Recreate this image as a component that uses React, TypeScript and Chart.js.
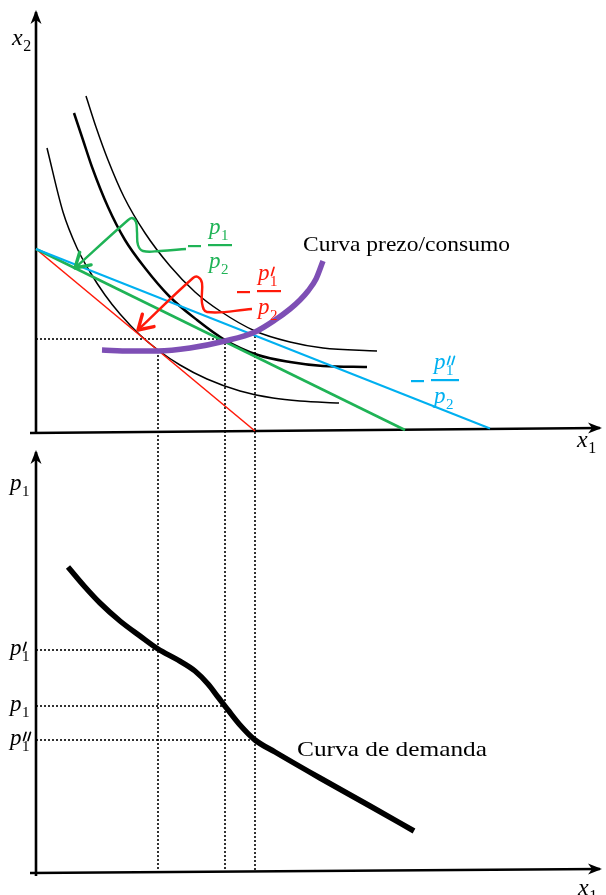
import React, { useEffect, useRef } from "react";
import { Chart, registerables } from "chart.js";

Chart.register(...registerables);

// ---------- Top panel: goods space (x1, x2) ----------
const ic1X = [1.1, 2.7, 4.1, 5.4, 6.9, 8.4, 10.4, 12.2, 14.4, 17.1, 20.4, 23.7, 26.4, 30.3];
const ic1Y = [28.4, 22.0, 18.4, 16.0, 13.7, 11.8, 9.7, 8.2, 6.7, 5.3, 4.1, 3.4, 3.1, 2.9];
const ic2X = [3.8, 4.7, 5.6, 7.2, 8.9, 10.9, 13.4, 16.1, 18.9, 22.2, 25.4, 28.7, 33.1];
const ic2Y = [31.9, 29.2, 26.5, 22.5, 19.2, 16.4, 13.5, 11.2, 9.2, 7.7, 7.0, 6.6, 6.5];
const ic3X = [5.0, 6.0, 7.2, 8.8, 10.9, 13.4, 15.9, 18.4, 21.9, 25.4, 28.7, 34.1];
const ic3Y = [33.6, 30.5, 27.2, 23.5, 19.9, 16.6, 14.0, 12.1, 10.1, 9.0, 8.4, 8.1];

const budgetRedX = [0, 21.9];
const budgetRedY = [18.3, 0.1];
const budgetGreenX = [0, 36.9];
const budgetGreenY = [18.3, 0.2];
const budgetCyanX = [0, 45.4];
const budgetCyanY = [18.3, 0.35];

const pccX = [6.6, 9.4, 12.2, 15.4, 18.9, 21.9, 23.9, 25.4, 26.4, 27.2, 28.0, 28.7];
const pccY = [8.2, 8.1, 8.1, 8.4, 9.1, 10.0, 11.2, 12.3, 13.2, 14.1, 15.3, 17.1];

const bundleX = [12.2, 18.9, 21.9];
const bundleX2 = [8.1, 9.3, 10.0];

const calloutGreenX = [15.0, 12.4, 10.7, 10.2, 10.1, 10.0, 9.6, 9.1, 3.9];
const calloutGreenY = [18.3, 18.1, 18.1, 18.7, 20.0, 21.0, 21.4, 21.1, 16.4];
const calloutRedX = [21.6, 17.1, 16.6, 16.6, 16.2, 15.7, 10.2];
const calloutRedY = [12.3, 12.0, 12.9, 14.9, 15.5, 15.4, 10.2];

const topYAxisX = [0, 0];
const topYAxisY = [-0.2, 42.0];
const topXAxisX = [-0.6, 56.4];
const topXAxisY = [-0.1, 0.4];

// ---------- Bottom panel: demand (x1, p1) ----------
const priceLevels = [22.2, 16.6, 13.2];
const pricePrimes = [1, 0, 2];
const demandX = [3.2, 4.9, 6.4, 8.4, 10.4, 12.2, 14.2, 15.9, 17.2, 18.2, 19.2, 20.4, 21.9, 23.9, 28.4, 33.4, 37.8];
const demandY = [30.5, 28.5, 26.9, 25.1, 23.6, 22.3, 21.2, 20.1, 18.8, 17.5, 16.2, 14.7, 13.2, 12.0, 9.4, 6.6, 4.1];

const botYAxisX = [0, 0];
const botYAxisY = [-0.4, 42.0];
const botXAxisX = [-0.6, 56.4];
const botXAxisY = [-0.1, 0.3];

const labelTitleTop = "Curva prezo/consumo";
const labelTitleBottom = "Curva de demanda";

// ---------- colours ----------
const C_GREEN = "#1fb356";
const C_RED = "#ff1a0a";
const C_CYAN = "#00b0f0";
const C_PURPLE = "#7e4fb5";
const C_BLACK = "#000000";

const SERIF = '"Liberation Serif", "DejaVu Serif", serif';

const zip = (xs: number[], ys: number[]) => xs.map((x, i) => ({ x, y: ys[i] }));

function lineDs(data: any[], color: string, width: number, axis: string, extra: any = {}) {
  return {
    type: "line",
    data,
    borderColor: color,
    backgroundColor: color,
    borderWidth: width,
    pointRadius: 0,
    pointHoverRadius: 0,
    fill: false,
    tension: 0,
    yAxisID: axis,
    ...extra,
  };
}

function fitText(ctx: CanvasRenderingContext2D, text: string, x: number, y: number, size: number, width: number, color: string) {
  ctx.save();
  ctx.font = `${size}px ${SERIF}`;
  ctx.fillStyle = color;
  ctx.textAlign = "left";
  ctx.textBaseline = "alphabetic";
  const w = ctx.measureText(text).width;
  ctx.translate(x, y);
  ctx.scale(width / w, 1);
  ctx.fillText(text, 0, 0);
  ctx.restore();
}

function mathSym(ctx: CanvasRenderingContext2D, letter: string, sub: string, primes: number, x: number, base: number, color: string, size: number) {
  ctx.save();
  ctx.fillStyle = color;
  ctx.strokeStyle = color;
  ctx.textAlign = "left";
  ctx.textBaseline = "alphabetic";
  ctx.font = `italic ${size}px ${SERIF}`;
  ctx.fillText(letter, x, base);
  const w = ctx.measureText(letter).width;
  ctx.font = `${Math.round(size * 0.66)}px ${SERIF}`;
  ctx.fillText(sub, x + w + 0.5, base + size * 0.24);
  ctx.lineWidth = 1.7;
  ctx.lineCap = "round";
  for (let k = 0; k < primes; k++) {
    const px = x + w + 1.5 + k * 4.5;
    ctx.beginPath();
    ctx.moveTo(px + 3, base - size * 0.55);
    ctx.lineTo(px + 0.5, base - size * 0.2);
    ctx.stroke();
  }
  ctx.restore();
}

function fraction(ctx: CanvasRenderingContext2D, minusX: number, barX: number, barW: number, barY: number, primes: number, color: string) {
  ctx.save();
  ctx.fillStyle = color;
  ctx.fillRect(minusX, barY, 13, 2.2);
  ctx.fillRect(barX, barY - 1, barW, 2.2);
  ctx.restore();
  const pad = (barW - 22) / 2;
  mathSym(ctx, "p", "1", primes, barX + pad, barY - 11, color, 23);
  mathSym(ctx, "p", "2", 0, barX + pad, barY + 23, color, 23);
}

const decorPlugin = {
  id: "decor",
  beforeDatasetsDraw(chart: any) {
    const ctx: CanvasRenderingContext2D = chart.ctx;
    const xs = chart.scales.x;
    const yt = chart.scales.yTop;
    const yb = chart.scales.yBot;
    ctx.save();
    ctx.strokeStyle = C_BLACK;
    ctx.lineWidth = 1.6;
    ctx.setLineDash([2, 2]);
    bundleX.forEach((bx, i) => {
      const px = xs.getPixelForValue(bx);
      ctx.beginPath();
      ctx.moveTo(px, yt.getPixelForValue(bundleX2[i]));
      ctx.lineTo(px, yb.getPixelForValue(0));
      ctx.stroke();
    });
    ctx.restore();
  },
  afterDatasetsDraw(chart: any) {
    const ctx: CanvasRenderingContext2D = chart.ctx;
    chart.data.datasets.forEach((ds: any, i: number) => {
      if (!ds.arrowHead) return;
      const pts = chart.getDatasetMeta(i).data;
      const a = pts[pts.length - 2];
      const b = pts[pts.length - 1];
      const ang = Math.atan2(b.y - a.y, b.x - a.x);
      ctx.save();
      ctx.translate(b.x, b.y);
      ctx.rotate(ang);
      if (ds.arrowHead === "stealth") {
        ctx.fillStyle = ds.borderColor;
        ctx.beginPath();
        ctx.moveTo(2, 0);
        ctx.lineTo(-12, -5.5);
        ctx.lineTo(-8, 0);
        ctx.lineTo(-12, 5.5);
        ctx.closePath();
        ctx.fill();
      } else {
        ctx.strokeStyle = ds.borderColor;
        ctx.lineWidth = 3.4;
        ctx.lineCap = "round";
        ctx.lineJoin = "round";
        ctx.beginPath();
        ctx.moveTo(-14, -8.5);
        ctx.lineTo(0, 0);
        ctx.lineTo(-14, 8.5);
        ctx.stroke();
      }
      ctx.restore();
    });
  },
  afterDraw(chart: any) {
    const ctx: CanvasRenderingContext2D = chart.ctx;
    const xs = chart.scales.x;
    const yt = chart.scales.yTop;
    const yb = chart.scales.yBot;
    const X = (v: number) => xs.getPixelForValue(v);
    const YT = (v: number) => yt.getPixelForValue(v);
    const YB = (v: number) => yb.getPixelForValue(v);

    mathSym(ctx, "x", "2", 0, X(-2.4), YT(38.7), C_BLACK, 24);
    mathSym(ctx, "x", "1", 0, X(54.1), YT(-1.5), C_BLACK, 24);
    mathSym(ctx, "p", "1", 0, X(-2.6), YB(38.2), C_BLACK, 23);
    mathSym(ctx, "x", "1", 0, X(54.2), YB(-2.3), C_BLACK, 24);

    priceLevels.forEach((p, i) => {
      mathSym(ctx, "p", "1", pricePrimes[i], X(-2.6), YB(p) + 5, C_BLACK, 23);
    });

    fraction(ctx, X(15.2), X(17.2), 24, YT(18.7), 0, C_GREEN);
    fraction(ctx, X(20.1), X(22.1), 24, YT(14.1), 1, C_RED);
    fraction(ctx, X(37.5), X(39.5), 28, YT(5.2), 2, C_CYAN);

    fitText(ctx, labelTitleTop, X(26.7), YT(18.1), 22, 207, C_BLACK);
    fitText(ctx, labelTitleBottom, X(26.1), YB(11.6), 22, 190, C_BLACK);
  },
};

export default function App() {
  const ref = useRef<HTMLCanvasElement | null>(null);

  useEffect(() => {
    if (!ref.current) return;
    const datasets: any[] = [
      lineDs(zip(calloutGreenX, calloutGreenY), C_GREEN, 2.4, "yTop", { tension: 0.4, arrowHead: "chevron", borderJoinStyle: "round" }),
      lineDs(zip(calloutRedX, calloutRedY), C_RED, 2.4, "yTop", { tension: 0.4, arrowHead: "chevron", borderJoinStyle: "round" }),
      lineDs(zip(pccX, pccY), C_PURPLE, 5.5, "yTop", { cubicInterpolationMode: "monotone" }),
      lineDs(zip(demandX, demandY), C_BLACK, 5.5, "yBot", { cubicInterpolationMode: "monotone" }),
      lineDs(zip(budgetCyanX, budgetCyanY), C_CYAN, 2, "yTop"),
      lineDs(zip(budgetGreenX, budgetGreenY), C_GREEN, 2.6, "yTop"),
      lineDs(zip(budgetRedX, budgetRedY), C_RED, 1.6, "yTop"),
      lineDs(zip(ic1X, ic1Y), C_BLACK, 1.5, "yTop", { cubicInterpolationMode: "monotone" }),
      lineDs(zip(ic2X, ic2Y), C_BLACK, 2.5, "yTop", { cubicInterpolationMode: "monotone" }),
      lineDs(zip(ic3X, ic3Y), C_BLACK, 1.5, "yTop", { cubicInterpolationMode: "monotone" }),
      lineDs([{ x: 0, y: bundleX2[1] }, { x: bundleX[1], y: bundleX2[1] }], C_BLACK, 1.6, "yTop", { borderDash: [2, 2] }),
      ...priceLevels.map((p, i) =>
        lineDs([{ x: 0, y: p }, { x: bundleX[i], y: p }], C_BLACK, 1.6, "yBot", { borderDash: [2, 2] })
      ),
      lineDs(zip(topYAxisX, topYAxisY), C_BLACK, 2.6, "yTop", { arrowHead: "stealth" }),
      lineDs(zip(topXAxisX, topXAxisY), C_BLACK, 2.6, "yTop", { arrowHead: "stealth" }),
      lineDs(zip(botYAxisX, botYAxisY), C_BLACK, 2.6, "yBot", { arrowHead: "stealth" }),
      lineDs(zip(botXAxisX, botXAxisY), C_BLACK, 2.6, "yBot", { arrowHead: "stealth" }),
    ];

    const chart = new Chart(ref.current, {
      type: "line",
      data: { datasets },
      options: {
        animation: false,
        responsive: false,
        maintainAspectRatio: false,
        layout: { padding: 0 },
        events: [],
        plugins: { legend: { display: false }, tooltip: { enabled: false }, title: { display: false } },
        scales: {
          x: { type: "linear", min: -3.6, max: 57.0, display: false },
          yTop: { type: "linear", min: -46.3, max: 43.2, display: false },
          yBot: { type: "linear", min: -2.3, max: 87.2, display: false },
        },
      } as any,
      plugins: [decorPlugin],
    });
    return () => chart.destroy();
  }, []);

  return (
    <div style={{ position: "absolute", left: 0, top: 0, width: 606, height: 895, background: "#ffffff" }}>
      <canvas ref={ref} width={606} height={895} style={{ display: "block", width: 606, height: 895 }} />
    </div>
  );
}
